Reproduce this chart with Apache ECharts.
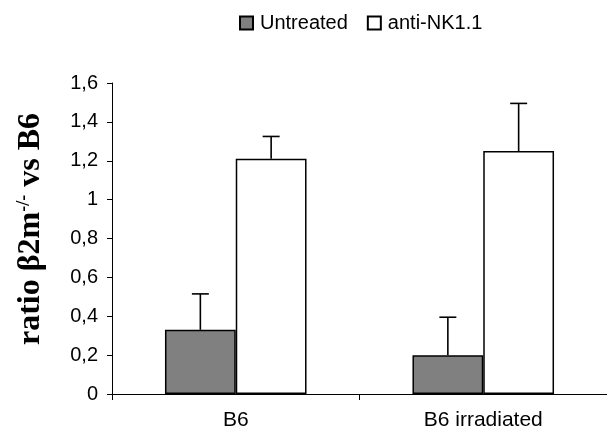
<!DOCTYPE html>
<html>
<head>
<meta charset="utf-8">
<script src="https://cdn.jsdelivr.net/npm/echarts@6/dist/echarts.min.js"></script>
<style>
  html, body { margin: 0; padding: 0; background: #fff; }
  #chart { width: 607px; height: 434px; }
</style>
</head>
<body>
<div id="chart"></div>
<script>
// values
var categories = ['B6', 'B6 irradiated']
var seriesNames = ['Untreated', 'anti-NK1.1']
var untreated = [0.33, 0.20]
var untreatedErr = [0.185, 0.195]
var antiNK = [1.21, 1.25]
var antiNKErr = [0.115, 0.245]

var BAR_W = 0.286
var SANS = 'Liberation Sans, Arial, sans-serif'
var SERIF = 'Liberation Serif, Times New Roman, serif'

// upward-only error bar, shifted onto the left (-1) or right (+1) bar
function errorBar (params, api) {
  var v = api.value(1)
  var base = api.coord([api.value(0), v])
  var top = api.coord([api.value(0), v + api.value(2)])
  var bw = api.size([1, 0])[0] * BAR_W
  var cx = base[0] + api.value(3) * bw / 2
  var style = { stroke: '#000', lineWidth: 1.6 }
  return {
    type: 'group',
    children: [
      { type: 'line', shape: { x1: cx, y1: base[1], x2: cx, y2: top[1] }, style: style },
      { type: 'line', shape: { x1: cx - 8.5, y1: top[1], x2: cx + 8.5, y2: top[1] }, style: style }
    ]
  }
}

function errData (vals, errs, side) {
  return vals.map(function (v, i) { return [i, v, errs[i], side] })
}

var chart = echarts.init(document.getElementById('chart'), null, { renderer: 'canvas' })
chart.setOption({
  animation: false,
  backgroundColor: '#fff',
  legend: {
    data: seriesNames,
    left: 234,
    top: 8,
    itemWidth: 13,
    itemHeight: 13,
    itemGap: 19,
    icon: 'rect',
    textStyle: { fontFamily: SANS, fontSize: 20, color: '#000', padding: [0, 0, 0, 2] }
  },
  // y-axis title, rotated, with superscript
  graphic: [{
    type: 'text',
    x: 31,
    y: 229,
    rotation: Math.PI / 2,
    style: {
      text: 'ratio β2m{sup|-/-} vs B6',
      fontFamily: SERIF,
      fontWeight: 'bold',
      fontSize: 32,
      fill: '#000',
      align: 'center',
      verticalAlign: 'middle',
      rich: {
        sup: { fontFamily: SERIF, fontWeight: 'bold', fontSize: 18, verticalAlign: 'top', fill: '#000' }
      }
    }
  }],
  grid: { left: 112, top: 83, width: 498, height: 311 },
  xAxis: {
    type: 'category',
    data: categories,
    axisLine: { lineStyle: { color: '#000', width: 1 } },
    axisTick: { show: true, length: 6, lineStyle: { color: '#000' } },
    axisLabel: { fontFamily: SANS, fontSize: 21, color: '#000', margin: 16 }
  },
  yAxis: {
    type: 'value',
    min: 0,
    max: 1.6,
    interval: 0.2,
    axisLine: { show: true, lineStyle: { color: '#000', width: 1 } },
    axisTick: { show: true, length: 5, lineStyle: { color: '#000' } },
    splitLine: { show: false },
    axisLabel: {
      fontFamily: SANS,
      fontSize: 20,
      color: '#000',
      margin: 14,
      formatter: function (v) { return String(+v.toFixed(1)).replace('.', ',') }
    }
  },
  series: [
    {
      name: seriesNames[0],
      type: 'bar',
      data: untreated,
      barWidth: (BAR_W * 100) + '%',
      barGap: '0%',
      itemStyle: { color: '#808080', borderColor: '#000', borderWidth: 1.5 }
    },
    {
      name: seriesNames[1],
      type: 'bar',
      data: antiNK,
      barWidth: (BAR_W * 100) + '%',
      barGap: '0%',
      itemStyle: { color: '#fff', borderColor: '#000', borderWidth: 1.5 }
    },
    {
      name: 'errUntreated',
      type: 'custom',
      renderItem: errorBar,
      data: errData(untreated, untreatedErr, -1),
      encode: { x: 0, y: 1 },
      z: 5
    },
    {
      name: 'errAnti',
      type: 'custom',
      renderItem: errorBar,
      data: errData(antiNK, antiNKErr, 1),
      encode: { x: 0, y: 1 },
      z: 5
    }
  ]
})
</script>
</body>
</html>
